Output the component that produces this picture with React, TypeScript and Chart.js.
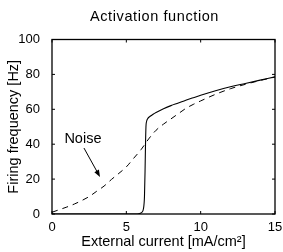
import React, { useEffect, useRef } from "react";
import { Chart, registerables } from "chart.js";

Chart.register(...registerables);

const titleText = "Activation function";
const xTitle = "External current [mA/cm²]";
const yTitle = "Firing frequency [Hz]";
const noiseLabel = "Noise";

const xTicks = [0, 5, 10, 15];
const yTicks = [0, 20, 40, 60, 80, 100];

const solidX = [0, 5.5, 5.9, 6.05, 6.15, 6.22, 6.26, 6.29, 6.32, 6.36, 6.45, 6.6, 6.8, 7, 7.5, 8, 8.5, 9, 9.5, 10, 11, 12, 13, 14, 15];
const solidY = [0, 0, 0.3, 1, 3, 10, 25, 40, 50, 53, 54.8, 56, 57.2, 58.2, 60.3, 62.1, 63.6, 65.2, 66.6, 68, 70.6, 72.9, 74.8, 76.7, 78.6];

const noiseX = [0, 0.5, 1, 1.5, 2, 2.5, 3, 3.5, 4, 4.5, 5, 5.5, 6, 6.5, 7, 7.5, 8, 8.5, 9, 9.5, 10, 11, 12, 13, 14, 15];
const noiseY = [1, 2.5, 4, 5.7, 7.7, 10, 13, 16, 19.8, 23.3, 27, 32, 37, 43, 48, 51.5, 54.5, 57.5, 60.5, 62.8, 64.8, 68.6, 71.8, 74.3, 76.5, 78.5];

// annotation anchor points in data units
const noiseTextPos = { x: 2.08, y: 43 };
const arrowFrom = { x: 2.15, y: 37.8 };
const arrowTo = { x: 3.23, y: 21.2 };

const FONT = "'Liberation Sans', Arial, Helvetica, sans-serif";

const decorPlugin = {
  id: "decor",
  afterDraw(chart: any) {
    const { ctx, chartArea: a, scales } = chart;
    const xs = scales.x;
    const ys = scales.y;
    ctx.save();
    ctx.strokeStyle = "#000";
    ctx.lineWidth = 1.3;
    ctx.strokeRect(a.left, a.top, a.right - a.left, a.bottom - a.top);
    ctx.lineWidth = 1;
    const tl = 3;
    ctx.beginPath();
    for (const v of xTicks) {
      const px = xs.getPixelForValue(v);
      ctx.moveTo(px, a.bottom);
      ctx.lineTo(px, a.bottom - tl);
      ctx.moveTo(px, a.top);
      ctx.lineTo(px, a.top + tl);
    }
    for (const v of yTicks) {
      const py = ys.getPixelForValue(v);
      ctx.moveTo(a.left, py);
      ctx.lineTo(a.left + tl, py);
      ctx.moveTo(a.right, py);
      ctx.lineTo(a.right - tl, py);
    }
    ctx.stroke();

    // title
    ctx.fillStyle = "#000";
    ctx.font = `14.5px ${FONT}`;
    try { (ctx as any).letterSpacing = "0.6px"; } catch (e) {}
    ctx.textAlign = "center";
    ctx.textBaseline = "alphabetic";
    ctx.fillText(titleText, 154.5, 20.7);
    try { (ctx as any).letterSpacing = "0px"; } catch (e) {}

    // Noise label
    ctx.font = `14.5px ${FONT}`;
    ctx.textBaseline = "middle";
    ctx.fillText(noiseLabel, xs.getPixelForValue(noiseTextPos.x), ys.getPixelForValue(noiseTextPos.y));

    // arrow
    const x1 = xs.getPixelForValue(arrowFrom.x);
    const y1 = ys.getPixelForValue(arrowFrom.y);
    const x2 = xs.getPixelForValue(arrowTo.x);
    const y2 = ys.getPixelForValue(arrowTo.y);
    const ang = Math.atan2(y2 - y1, x2 - x1);
    const hl = 7;
    const hw = 2.6;
    ctx.beginPath();
    ctx.moveTo(x1, y1);
    ctx.lineTo(x2 - Math.cos(ang) * hl * 0.8, y2 - Math.sin(ang) * hl * 0.8);
    ctx.stroke();
    ctx.beginPath();
    ctx.moveTo(x2, y2);
    ctx.lineTo(x2 - Math.cos(ang) * hl - Math.sin(ang) * hw, y2 - Math.sin(ang) * hl + Math.cos(ang) * hw);
    ctx.lineTo(x2 - Math.cos(ang) * hl + Math.sin(ang) * hw, y2 - Math.sin(ang) * hl - Math.cos(ang) * hw);
    ctx.closePath();
    ctx.fill();
    ctx.restore();
  },
};

export default function App() {
  const ref = useRef<HTMLCanvasElement | null>(null);
  useEffect(() => {
    if (!ref.current) return;
    const chart = new Chart(ref.current, {
      type: "line",
      data: {
        datasets: [
          {
            label: "Deterministic",
            data: solidX.map((x, i) => ({ x, y: solidY[i] })),
            borderColor: "#000",
            borderWidth: 1.1,
            pointRadius: 0,
            fill: false,
            cubicInterpolationMode: "monotone",
          },
          {
            label: "Noise",
            data: noiseX.map((x, i) => ({ x, y: noiseY[i] })),
            borderColor: "#000",
            borderWidth: 1,
            borderDash: [6, 5],
            pointRadius: 0,
            fill: false,
            cubicInterpolationMode: "monotone",
          },
        ],
      },
      options: {
        animation: false,
        responsive: false,
        devicePixelRatio: 1,
        layout: { padding: { top: 39.5, right: 8, bottom: 0, left: 0 } },
        plugins: { legend: { display: false }, tooltip: { enabled: false }, title: { display: false } },
        scales: {
          x: {
            type: "linear",
            min: 0,
            max: 15,
            afterBuildTicks: (s: any) => { s.ticks = xTicks.map((v) => ({ value: v })); },
            afterFit: (s: any) => { s.height = 38; s.paddingLeft = 0; s.paddingRight = 0; },
            grid: { display: false },
            border: { display: false },
            ticks: { color: "#000", font: { family: FONT, size: 13 }, padding: -2, maxRotation: 0 },
            title: { display: true, text: xTitle, color: "#000", font: { family: FONT, size: 14.5 }, padding: { top: 0, bottom: 1.5 } },
          },
          y: {
            type: "linear",
            min: 0,
            max: 100,
            afterBuildTicks: (s: any) => { s.ticks = yTicks.map((v) => ({ value: v })); },
            afterFit: (s: any) => { s.width = 52; s.paddingTop = 0; s.paddingBottom = 0; },
            grid: { display: false },
            border: { display: false },
            ticks: { color: "#000", font: { family: FONT, size: 13 }, padding: 4 },
            title: { display: true, text: yTitle, color: "#000", font: { family: FONT, size: 14.5 }, padding: { top: 5.6, bottom: 0 } },
          },
        },
      },
      plugins: [decorPlugin],
    } as any);
    return () => chart.destroy();
  }, []);
  return (
    <div style={{ position: "absolute", left: 0, top: 0, width: 283, height: 252, background: "#fff" }}>
      <canvas ref={ref} width={283} height={252} style={{ display: "block" }} />
    </div>
  );
}
